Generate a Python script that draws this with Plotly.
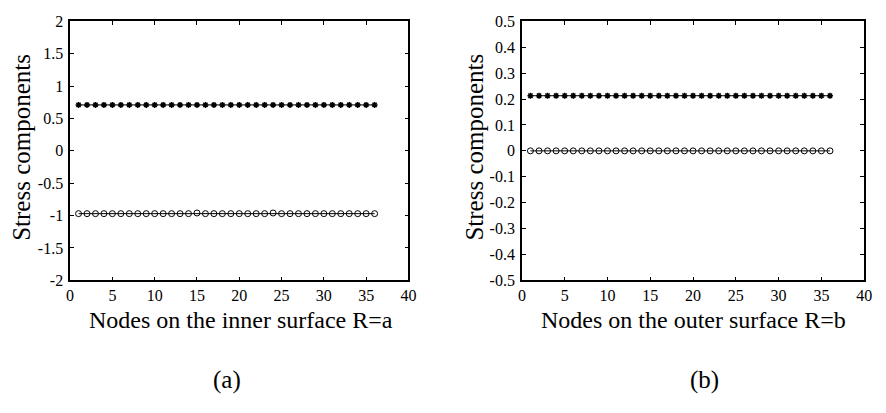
import plotly.graph_objects as go

W, H = 886, 413

nodes = list(range(1, 37))
inner_top = [0.71] * 36
inner_bottom = [-0.97, -0.97, -0.97, -0.97, -0.97, -0.97, -0.97, -0.97, -0.97, -0.97,
                -0.97, -0.97, -0.97, -0.97, -0.96, -0.97, -0.97, -0.97, -0.97, -0.97,
                -0.97, -0.97, -0.97, -0.96, -0.97, -0.97, -0.97, -0.97, -0.97, -0.97,
                -0.97, -0.97, -0.97, -0.97, -0.97, -0.97]
outer_top = [0.213] * 36
outer_bottom = [0.0] * 36

x_ticks = [0, 5, 10, 15, 20, 25, 30, 35, 40]
left_yticks = [-2, -1.5, -1, -0.5, 0, 0.5, 1, 1.5, 2]
left_ytext = ["-2", "-1.5", "-1", "-0.5", "0", "0.5", "1", "1.5", "2"]
right_yticks = [-0.5, -0.4, -0.3, -0.2, -0.1, 0, 0.1, 0.2, 0.3, 0.4, 0.5]
right_ytext = ["-0.5", "-0.4", "-0.3", "-0.2", "-0.1", "0", "0.1", "0.2", "0.3", "0.4", "0.5"]

FONT = "Liberation Serif"

fig = go.Figure()

def add_series(x, y, xa, ya, symbol, size, lw):
    fig.add_trace(go.Scatter(
        x=x, y=y, xaxis=xa, yaxis=ya, mode="lines+markers",
        line=dict(color="black", width=1),
        marker=dict(symbol=symbol, size=size, color="black",
                    line=dict(color="black", width=lw)),
        showlegend=False))

add_series(nodes, inner_top, "x", "y", "asterisk-open", 5, 1.5)
add_series(nodes, inner_bottom, "x", "y", "circle-open", 6, 1)
add_series(nodes, outer_top, "x2", "y2", "asterisk-open", 5, 1.5)
add_series(nodes, outer_bottom, "x2", "y2", "circle-open", 6, 1)

ydom = [1 - 284 / H, 1 - 14 / H]
common_x = dict(range=[0, 40], tickvals=x_ticks, ticks="inside", ticklen=4,
                mirror="allticks", showline=True, linecolor="black", linewidth=1.5,
                tickcolor="black", showgrid=False, zeroline=False,
                tickfont=dict(family=FONT, size=16, color="black"), ticklabelstandoff=0)
common_y = dict(ticks="inside", ticklen=4, mirror="allticks", showline=True,
                linecolor="black", linewidth=1.5, tickcolor="black", showgrid=False,
                zeroline=False, tickfont=dict(family=FONT, size=16, color="black"),
                ticklabelstandoff=2)

fig.update_layout(
    width=W, height=H, margin=dict(l=0, r=0, t=0, b=0),
    paper_bgcolor="white", plot_bgcolor="white",
    font=dict(family=FONT, color="black"),
    xaxis=dict(domain=[67 / W, 410 / W], anchor="y", **common_x),
    yaxis=dict(domain=ydom, anchor="x", range=[-2, 2], tickvals=left_yticks,
               ticktext=left_ytext, **common_y),
    xaxis2=dict(domain=[525 / W, 872 / W], anchor="y2", **common_x),
    yaxis2=dict(domain=ydom, anchor="x2", range=[-0.5, 0.5], tickvals=right_yticks,
                ticktext=right_ytext, **common_y),
)

def ann(text, x, y, size, angle=0):
    fig.add_annotation(text=text, x=x / W, y=1 - y / H, xref="paper", yref="paper",
                       showarrow=False, textangle=angle, xanchor="center", yanchor="middle",
                       font=dict(family=FONT, size=size, color="black"))

ann("Stress components", 17, 145, 25, -90)
ann("Stress components", 476, 145, 25, -90)
ann("Nodes on the inner surface R=a", 240, 325, 24)
ann("Nodes on the outer surface R=b", 699, 325, 24)
ann("(a)", 226, 388, 25)
ann("(b)", 710, 388, 25)

fig.write_html("out.html")
